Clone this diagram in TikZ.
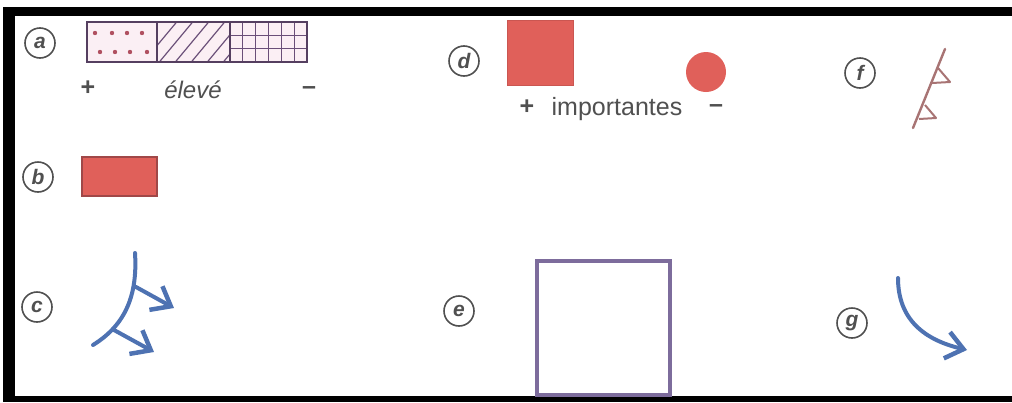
\documentclass[tikz,border=0pt]{standalone}
\usepackage{fontspec}
\setmainfont{Liberation Sans}
\usetikzlibrary{arrows.meta}
\definecolor{lblgray}{HTML}{505050}
\definecolor{redfill}{HTML}{E0605A}
\definecolor{redline}{HTML}{A04848}
\definecolor{bluearr}{HTML}{4E72B2}
\definecolor{purp}{HTML}{7D6C9C}
\definecolor{hatchp}{HTML}{6A4F78}
\definecolor{pinkbg}{HTML}{FBEFF4}
\definecolor{dotred}{HTML}{B05060}
\definecolor{faultc}{HTML}{A87474}
\tikzset{
  lbl/.style={circle,draw=lblgray,line width=1.6pt,text=lblgray,inner sep=0pt,minimum size=30pt,font=\fontsize{21}{21}\selectfont\bfseries\itshape},
  txt/.style={text=lblgray,font=\fontsize{25}{25}\selectfont},
  bluestroke/.style={draw=bluearr,line width=4pt,line cap=round},
  bluetip/.style={-{Straight Barb[length=17pt,width=27pt,line width=4.5pt]}},
}
\begin{document}
\begin{tikzpicture}[x=1pt,y=-1pt]
\useasboundingbox (0,0) rectangle (1012,402);
\fill[white] (0,0) rectangle (1012,402);
% frame
\fill[black] (10,7) rectangle (1012,16);
\fill[black] (3,7) rectangle (15,402);
\fill[black] (15,396) rectangle (1012,402);

% (a)
\node[lbl] (la) at (40,43) {a};
\fill[pinkbg] (87,22) rectangle (307,62);
\begin{scope}
\clip (157,22) rectangle (230,62);
\foreach \i in {0,...,6} \draw[hatchp,line width=1.2pt] (140+\i*16,66) -- (180+\i*16,18);
\end{scope}
\begin{scope}
\clip (230,22) rectangle (307,62);
\foreach \i in {1,...,6} \draw[hatchp,line width=1pt] (230+\i*12.8,22) -- (230+\i*12.8,62);
\foreach \j in {1,2} \draw[hatchp,line width=1pt] (230,22+\j*13.3) -- (307,22+\j*13.3);
\end{scope}
\foreach \x in {95,112,127,142} \fill[dotred] (\x,33) circle (2.2pt);
\foreach \x in {100,115,130,147} \fill[dotred] (\x,52) circle (2.2pt);
\draw[hatchp!80!black,line width=1.2pt] (87,22) rectangle (307,62);
\draw[hatchp!80!black,line width=1.2pt] (157,22) -- (157,62) (230,22) -- (230,62);
\node[txt] (ap) at (88,88) {\textbf{+}};
\node[txt,font=\fontsize{24}{24}\selectfont\itshape] (ae) at (193,90) {élevé};
\node[txt] (am) at (309,91) {\textbf{–}};

% (b)
\node[lbl] (lb) at (38,177) {b};
\draw[fill=redfill,draw=redline,line width=1.4pt] (82,157) rectangle (157,196);

% (c)
\node[lbl] (lc) at (37,307) {c};
\coordinate (c1) at (135,253);
\coordinate (c2) at (93,345);
\draw[bluestroke] (c1) .. controls (138,300) and (122,327) .. (c2);
\coordinate (cb1) at (136,287);
\coordinate (ce1) at (174,308);
\coordinate (cb2) at (114,330);
\coordinate (ce2) at (154,352);
\draw[bluestroke,bluetip] (cb1) -- (ce1);
\draw[bluestroke,bluetip] (cb2) -- (ce2);

% (d)
\node[lbl] (ld) at (464,61) {d};
\draw[fill=redfill,draw=redfill!90!black,line width=0.8pt] (507,20) rectangle (573,85);
\node[circle,fill=redfill,inner sep=0pt,minimum size=40pt] (dc) at (706,72) {};
\node[txt] (dp) at (527,107) {\textbf{+}};
\node[txt] (dt) at (617,109) {importantes};
\node[txt] (dm) at (716,109) {\textbf{–}};

% (e)
\node[lbl] (le) at (459,311) {e};
\draw[purp,line width=3.2pt] (537,261) rectangle (670,395);

% (f)
\node[lbl] (lf) at (860,73) {f};
\coordinate (f1) at (945,49);
\coordinate (f2) at (913,128);
\draw[faultc,line width=2.4pt,line cap=round] (f1) -- (f2);
\draw[faultc,line width=2pt,line join=round] (938,68) -- (950,82) -- (932,83);
\draw[faultc,line width=2pt,line join=round] (925,105) -- (936,118) -- (919,119);

% (g)
\node[lbl] (lg) at (852,323) {g};
\coordinate (g1) at (898,278);
\coordinate (g2) at (967,350);
\draw[bluestroke,bluetip] (g1) .. controls (898,320) and (925,340) .. (g2);
\end{tikzpicture}
\end{document}
